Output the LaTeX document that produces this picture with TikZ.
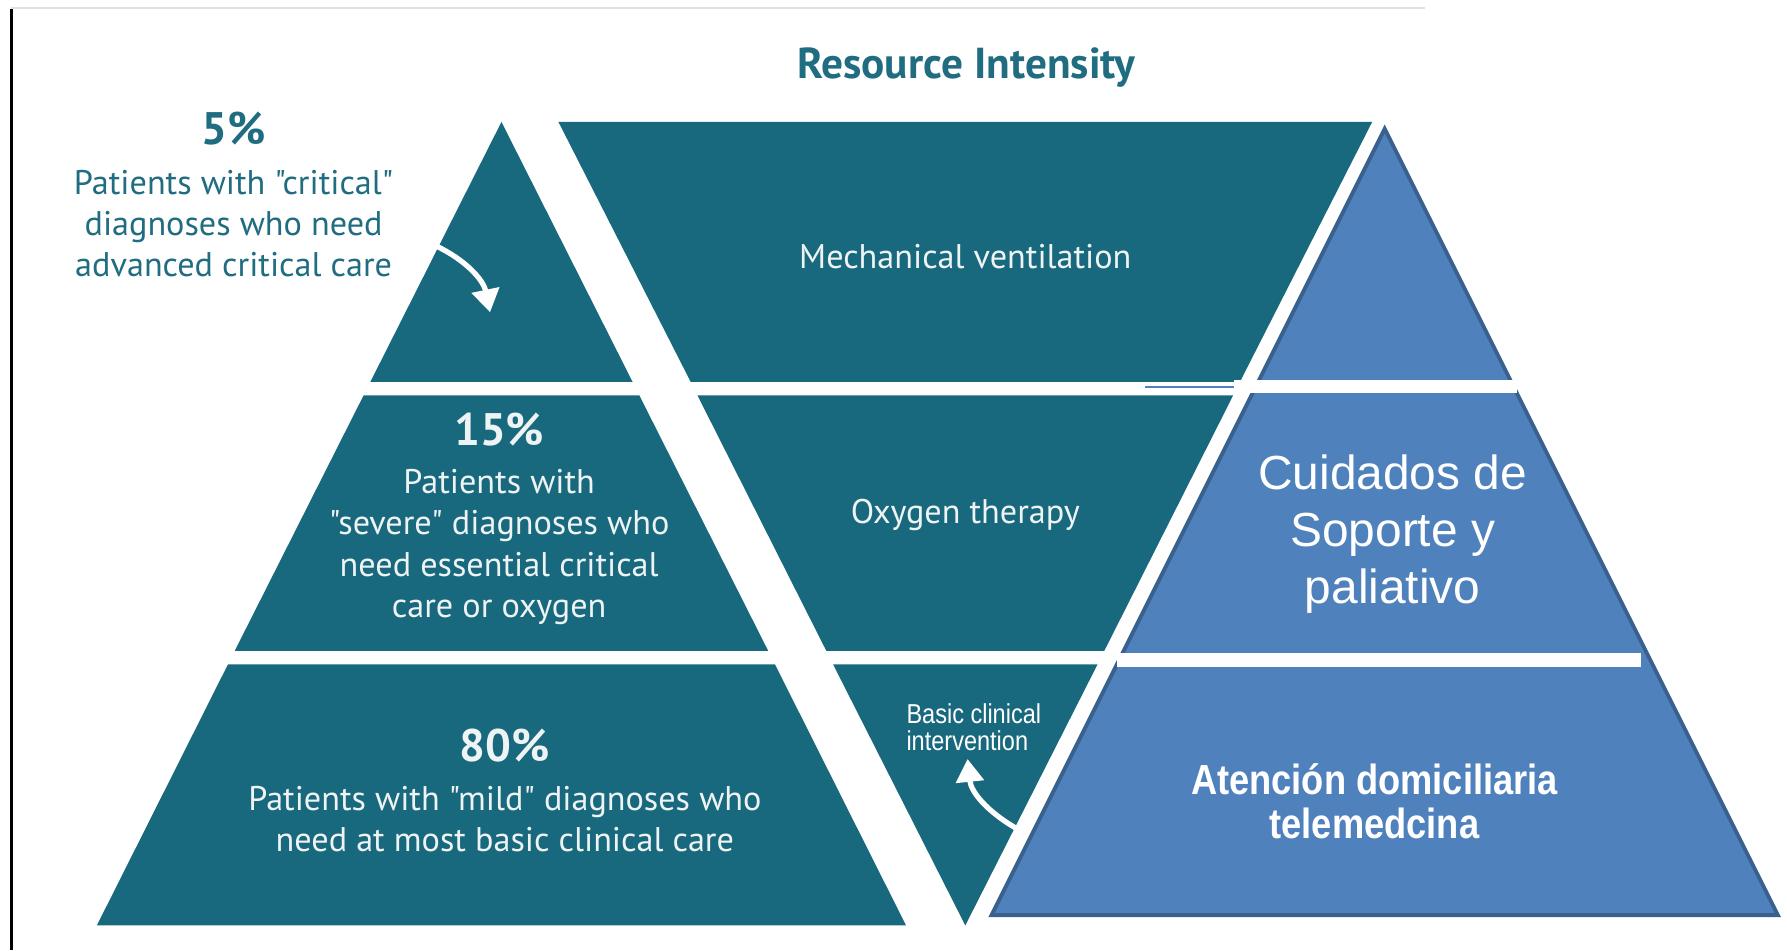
\documentclass[tikz,border=0pt]{standalone}
\usepackage{fontspec}
\usetikzlibrary{arrows.meta}
\newfontfamily\pts{PT Sans}
\newfontfamily\lib{Liberation Sans}
\newfontfamily\libn[FakeStretch=0.86]{Liberation Sans}
\definecolor{teal1}{RGB}{25,105,126}
\definecolor{tealtxt}{RGB}{32,108,128}
\definecolor{bfill}{RGB}{79,129,189}
\definecolor{bline}{RGB}{58,96,142}
\definecolor{wtxt}{RGB}{238,243,244}
\definecolor{topline}{RGB}{225,225,225}
\tikzset{
  tealpart/.style={fill=teal1, draw=none},
  bluepyr/.style={fill=bfill, draw=bline, line width=1.7pt, line join=miter},
  gapbar/.style={fill=white, draw=none},
  warrow/.style={draw=white, line width=2.3pt, -{Triangle[length=10pt,width=12pt]}},
  wtext/.style={text=wtxt, font=\pts, align=center, inner sep=0pt},
  ctext/.style={text=tealtxt, font=\pts, align=center, inner sep=0pt},
  btext/.style={text=white, align=center, inner sep=0pt},
}
\begin{document}
\begin{tikzpicture}[x=0.5pt,y=-0.5pt]
\useasboundingbox (0,0) rectangle (1568,834);
\fill[white] (0,0) rectangle (1568,834);
\draw[topline, line width=1pt] (10,7) -- (1250,7);
\draw[black, line width=1.3pt] (10,8) -- (10,834);

% left pyramid
\fill[tealpart] (440,107) -- (555,335) -- (325,335) -- cycle;
\fill[tealpart] (319,347) -- (561,347) -- (674,571) -- (206,571) -- cycle;
\fill[tealpart] (200,583) -- (680,583) -- (795,812) -- (85,812) -- cycle;

% middle inverted pyramid
\fill[tealpart] (490,107) -- (1204,107) -- (1088,335) -- (606,335) -- cycle;
\fill[tealpart] (612,347) -- (1082,347) -- (969,571) -- (725,571) -- cycle;
\fill[tealpart] (731,583) -- (963,583) -- (847,812) -- cycle;

% right blue pyramid
\draw[bluepyr] (1215,113) -- (1560,803) -- (870,803) -- cycle;
\fill[gapbar] (1083,333) rectangle (1331,345);
\fill[gapbar] (980,573) rectangle (1440,585);
\draw[bfill, line width=1pt] (1005,339.5) -- (1083,339.5);

% title
\node[ctext, font=\pts\bfseries\fontsize{19pt}{23pt}\selectfont] (title) at (848,59) {Resource Intensity};

% 5%
\node[ctext, font=\pts\bfseries\fontsize{20pt}{24pt}\selectfont] (p5) at (205,113) {5\%};
\node[ctext, font=\pts\fontsize{15pt}{18pt}\selectfont] (t5) at (205,196) {Patients with "critical"\\diagnoses who need\\advanced critical care};

% 15%
\node[wtext, font=\pts\bfseries\fontsize{20pt}{24pt}\selectfont] (p15) at (438,377) {15\%};
\node[wtext, font=\pts\fontsize{15pt}{18.2pt}\selectfont] (t15) at (438,480) {Patients with\\"severe" diagnoses who\\need essential critical\\care or oxygen};

% 80%
\node[wtext, font=\pts\bfseries\fontsize{20pt}{24pt}\selectfont] (p80) at (443,654) {80\%};
\node[wtext, font=\pts\fontsize{15pt}{18pt}\selectfont] (t80) at (443,719) {Patients with "mild" diagnoses who\\need at most basic clinical care};

% middle labels
\node[wtext, font=\pts\fontsize{15pt}{18pt}\selectfont] (mv) at (847,225) {Mechanical ventilation};
\node[wtext, font=\pts\fontsize{15pt}{18pt}\selectfont] (ox) at (847,452) {Oxygen therapy};
\node[btext, anchor=west, align=left, font=\libn\fontsize{12pt}{12pt}\selectfont] (bci) at (795,638) {Basic clinical\\intervention};

% right labels
\node[btext, font=\lib\fontsize{21pt}{25pt}\selectfont] (cs) at (1222,469) {Cuidados de\\Soporte y\\paliativo};
\node[btext, font=\libn\bfseries\fontsize{18.5pt}{19pt}\selectfont] (ad) at (1206,703) {Atención domiciliaria\\telemedcina};

% arrows
\coordinate (a1s) at (383,216);
\coordinate (a1e) at (430,274);
\draw[warrow] (a1s) .. controls (408,228) and (424,245) .. (a1e);
\coordinate (a2s) at (892,727);
\coordinate (a2e) at (849,666);
\draw[warrow] (a2s) .. controls (866,712) and (852,695) .. (a2e);
\end{tikzpicture}
\end{document}
